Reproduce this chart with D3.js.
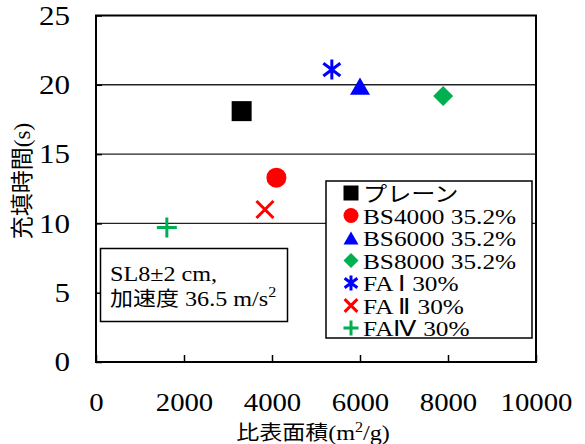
<!DOCTYPE html>
<html>
<head>
<meta charset="utf-8">
<script src="https://cdn.jsdelivr.net/npm/d3@7"></script>
<style>
  body { margin: 0; background: #fff; }
  svg { display: block; }
</style>
</head>
<body>
<div id="chart"></div>
<script>
// Series
const seriesNames = ["プレーン", "BS4000 35.2%", "BS6000 35.2%", "BS8000 35.2%", "FA Ⅰ 30%", "FA Ⅱ 30%", "FAⅣ 30%"];
const surfaceArea = [3310, 4100, 6000, 7890, 5360, 3840, 1610];
const fillTime = [18.1, 13.3, 19.9, 19.2, 21.1, 11.0, 9.7];
const seriesColors = ["#000000", "#ff0000", "#0000ff", "#00b050", "#0000ff", "#ff0000", "#00b050"];
const seriesShapes = ["square", "circle", "triangle", "diamond", "star", "x", "plus"];

// Axes
const xTicks = [0, 2000, 4000, 6000, 8000, 10000];
const yTicks = [0, 5, 10, 15, 20, 25];
const gridValues = [10, 15, 20];

const serif = "'Liberation Serif', 'Times New Roman', serif";
const gothic = "'Noto Sans CJK JP', sans-serif";
const SX = 1.15; // the original text is a bit stretched sideways

const width = 585, height = 444;
const plot = { left: 96, right: 536, top: 15.5, bottom: 362 };

const svg = d3.select("#chart").append("svg")
    .attr("width", width)
    .attr("height", height);

const x = d3.scaleLinear().domain([0, 10000]).range([plot.left, plot.right]);
const y = d3.scaleLinear().domain([0, 25]).range([plot.bottom, plot.top]);

// marker path for a shape, s = nominal size in px
function markerPath(shape, s) {
    const r = s / 2;
    if (shape === "square") return d3.symbol(d3.symbolSquare, s * s)();
    if (shape === "circle") return d3.symbol(d3.symbolCircle, Math.PI * r * r)();
    if (shape === "diamond") {
        return `M0,${-r}L${r},0L0,${r}L${-r},0Z`;
    }
    if (shape === "triangle") {
        const h = s * 0.86;
        return `M0,${-h / 2}L${r},${h / 2}L${-r},${h / 2}Z`;
    }
    if (shape === "star") {
        const d = r * 0.85;
        return `M0,${-r}V${r}M${-d},${-d * 0.75}L${d},${d * 0.75}M${-d},${d * 0.75}L${d},${-d * 0.75}`;
    }
    if (shape === "x") {
        const d = r * 0.85;
        return `M${-d},${-d}L${d},${d}M${-d},${d}L${d},${-d}`;
    }
    // plus
    return `M${-r},0H${r}M0,${-r}V${r}`;
}
const filledShapes = ["square", "circle", "triangle", "diamond"];

function drawMarker(g, i, s) {
    const shape = seriesShapes[i];
    const filled = filledShapes.includes(shape);
    g.append("path")
        .attr("d", markerPath(shape, s))
        .attr("fill", filled ? seriesColors[i] : "none")
        .attr("stroke", filled ? "none" : seriesColors[i])
        .attr("stroke-width", filled ? 0 : 3);
}

// gridlines
svg.append("g").selectAll("line")
    .data(gridValues)
    .enter().append("line")
    .attr("x1", plot.left)
    .attr("x2", plot.right)
    .attr("y1", d => y(d))
    .attr("y2", d => y(d))
    .attr("stroke", "#222")
    .attr("stroke-width", 1.4);

// x axis
const xAxis = svg.append("g")
    .attr("transform", `translate(0,${plot.bottom})`)
    .call(d3.axisBottom(x).tickValues(xTicks).tickSizeInner(-7).tickSizeOuter(0).tickPadding(31).tickFormat(d3.format("d")));
xAxis.select(".domain").remove();
xAxis.selectAll("line").attr("stroke", "#000").attr("stroke-width", 1.5);
xAxis.selectAll("text")
    .attr("transform", `scale(${SX},1)`)
    .style("font-family", serif)
    .style("font-size", "25px")
    .attr("fill", "#000");

// y axis
const yAxis = svg.append("g")
    .attr("transform", `translate(${plot.left},0)`)
    .call(d3.axisLeft(y).tickValues(yTicks).tickSizeInner(-6).tickSizeOuter(0).tickPadding(26));
yAxis.select(".domain").remove();
yAxis.selectAll("line").attr("stroke", "#000").attr("stroke-width", 1.5);
yAxis.selectAll("text")
    .attr("transform", `scale(${SX},1)`)
    .attr("x", -26 / SX)
    .style("font-family", serif)
    .style("font-size", "27px")
    .attr("fill", "#000");

// plot frame
svg.append("rect")
    .attr("x", plot.left)
    .attr("y", plot.top)
    .attr("width", plot.right - plot.left)
    .attr("height", plot.bottom - plot.top)
    .attr("fill", "none")
    .attr("stroke", "#000")
    .attr("stroke-width", 2);

// axis titles
const xTitle = svg.append("text")
    .attr("transform", `translate(313,440) scale(${SX},1)`)
    .attr("text-anchor", "middle")
    .attr("fill", "#000")
    .style("font-size", "20px");
xTitle.append("tspan").style("font-family", gothic).text("比表面積");
xTitle.append("tspan").style("font-family", serif).style("font-size", "21px").text("(m");
xTitle.append("tspan").style("font-family", serif).style("font-size", "14px").attr("dy", -8).text("2");
xTitle.append("tspan").style("font-family", serif).style("font-size", "21px").attr("dy", 8).text("/g)");

const yTitle = svg.append("text")
    .attr("transform", "translate(30,181) rotate(-90)")
    .attr("text-anchor", "middle")
    .attr("fill", "#000")
    .style("font-size", "23px");
yTitle.append("tspan").style("font-family", gothic).text("充填時間");
yTitle.append("tspan").style("font-family", serif).style("font-size", "23px").text("(s)");

// annotation box
const note = svg.append("g");
note.append("rect")
    .attr("x", 100.5)
    .attr("y", 248.5)
    .attr("width", 187)
    .attr("height", 73)
    .attr("fill", "#fff")
    .attr("stroke", "#000")
    .attr("stroke-width", 1.5);
note.append("text")
    .attr("transform", `translate(110,281) scale(${SX},1)`)
    .style("font-family", serif)
    .style("font-size", "21px")
    .text("SL8±2 cm,");
const note2 = note.append("text")
    .attr("transform", `translate(110,306) scale(${SX},1)`)
    .style("font-family", serif)
    .style("font-size", "21px");
note2.append("tspan").style("font-family", gothic).style("font-size", "20px").text("加速度");
note2.append("tspan").text(" 36.5 m/s");
note2.append("tspan").style("font-size", "14px").attr("dy", -9).text("2");

// data points
seriesNames.forEach((name, i) => {
    const g = svg.append("g")
        .attr("transform", `translate(${x(surfaceArea[i])},${y(fillTime[i])})`);
    drawMarker(g, i, 20);
});

// legend
const legendBox = { x: 326, y: 181, w: 206, h: 157 };
svg.append("clipPath").attr("id", "legendClip")
    .append("rect")
    .attr("x", legendBox.x).attr("y", legendBox.y)
    .attr("width", legendBox.w).attr("height", legendBox.h);
svg.append("rect")
    .attr("x", legendBox.x)
    .attr("y", legendBox.y)
    .attr("width", legendBox.w)
    .attr("height", legendBox.h)
    .attr("fill", "#fff");
const legend = svg.append("g").attr("clip-path", "url(#legendClip)");
seriesNames.forEach((name, i) => {
    const cy = 193 + i * 22.5;
    const m = legend.append("g").attr("transform", `translate(351,${cy})`);
    drawMarker(m, i, 15);
    legend.append("text")
        .attr("transform", `translate(363,${cy + 8}) scale(${SX},1)`)
        .attr("fill", "#000")
        .style("font-family", i === 0 ? gothic : serif)
        .style("font-size", i === 0 ? "21px" : "22px")
        .text(name);
});
svg.append("rect")
    .attr("x", legendBox.x)
    .attr("y", legendBox.y)
    .attr("width", legendBox.w)
    .attr("height", legendBox.h)
    .attr("fill", "none")
    .attr("stroke", "#000")
    .attr("stroke-width", 1.5);
</script>
</body>
</html>
